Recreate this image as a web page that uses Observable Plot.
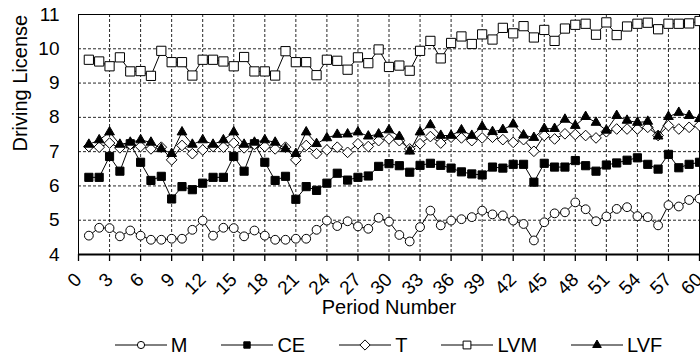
<!DOCTYPE html>
<html><head><meta charset="utf-8">
<script src="https://cdn.jsdelivr.net/npm/d3@7"></script>
<script src="https://cdn.jsdelivr.net/npm/@observablehq/plot@0.6"></script>
<style>
html,body{margin:0;padding:0;background:#fff;}
body{width:700px;height:358px;overflow:hidden;font-family:"Liberation Sans",Arial,sans-serif;}
#legend{box-sizing:border-box;width:700px;display:flex;justify-content:center;align-items:center;gap:34px;height:26px;font-size:20px;color:#000;line-height:1;padding-left:77px;}
#legend .item{display:flex;align-items:center;gap:4px;}
#legend svg{display:block;overflow:visible;}
</style></head><body>
<div id="chart"></div>
<div id="legend"></div>
<script>
const periods = [1,2,3,4,5,6,7,8,9,10,11,12,13,14,15,16,17,18,19,20,21,22,23,24,25,26,27,28,29,30,31,32,33,34,35,36,37,38,39,40,41,42,43,44,45,46,47,48,49,50,51,52,53,54,55,56,57,58,59,60];
const xTicks = [0,3,6,9,12,15,18,21,24,27,30,33,36,39,42,45,48,51,54,57,60];
const yTicks = [4,5,6,7,8,9,10,11];
const seriesNames = ["M","CE","T","LVM","LVF"];

const M = [4.55,4.78,4.77,4.53,4.70,4.55,4.43,4.43,4.46,4.46,4.72,4.99,
           4.55,4.78,4.77,4.53,4.70,4.55,4.43,4.43,4.46,4.46,4.72,4.99,
           4.83,4.97,4.82,4.75,5.07,4.96,4.57,4.38,4.80,5.28,4.85,4.99,5.03,5.09,5.28,5.17,
           5.14,4.99,4.89,4.41,4.94,5.20,5.23,5.52,5.32,4.97,5.11,5.33,5.38,5.12,5.09,4.85,5.44,5.40,5.59,5.63];
const CE = [6.25,6.25,6.86,6.43,7.23,6.69,6.16,6.28,5.62,5.98,5.89,6.08,
            6.25,6.25,6.86,6.43,7.23,6.69,6.16,6.28,5.61,5.98,5.87,6.08,
            6.37,6.17,6.25,6.29,6.57,6.65,6.59,6.40,6.60,6.66,6.60,6.52,6.41,6.35,6.32,6.55,
            6.52,6.63,6.63,6.11,6.66,6.55,6.55,6.74,6.59,6.43,6.61,6.67,6.75,6.82,6.63,6.49,6.92,6.53,6.63,6.69];
const T = [7.15,7.13,7.25,7.11,7.21,7.15,7.08,7.13,6.76,7.18,6.94,7.05,
           7.15,7.13,7.25,7.11,7.21,7.15,7.08,7.13,6.76,7.18,6.94,7.05,
           7.13,6.98,7.23,7.15,7.32,7.37,7.32,7.08,7.23,7.44,7.25,7.42,7.40,7.32,7.40,7.42,
           7.35,7.27,7.35,7.01,7.47,7.37,7.52,7.50,7.47,7.40,7.58,7.66,7.66,7.66,7.71,7.47,7.76,7.66,7.71,7.76];
const LVM = [9.68,9.63,9.49,9.75,9.34,9.35,9.21,9.94,9.61,9.61,9.22,9.68,
             9.68,9.63,9.49,9.76,9.34,9.34,9.22,9.93,9.61,9.61,9.23,9.68,
             9.65,9.39,9.75,9.58,9.98,9.47,9.51,9.36,9.94,10.23,9.72,10.17,10.36,10.14,10.42,10.27,
             10.61,10.45,10.66,10.33,10.55,10.23,10.59,10.70,10.73,10.41,10.77,10.40,10.65,10.73,10.76,10.57,10.73,10.73,10.74,10.81];
const LVF = [7.21,7.34,7.57,7.21,7.27,7.34,7.27,7.08,6.94,7.57,7.21,7.34,
             7.21,7.34,7.57,7.21,7.27,7.34,7.27,7.08,6.94,7.57,7.23,7.40,
             7.50,7.51,7.57,7.45,7.51,7.63,7.44,7.01,7.57,7.78,7.47,7.47,7.63,7.47,7.73,7.58,
             7.64,7.80,7.48,7.41,7.67,7.67,7.94,7.76,8.02,7.85,7.62,8.05,7.91,7.85,7.88,7.45,8.02,8.14,8.05,7.96];

const values = {M, CE, T, LVM, LVF};
const rows = seriesNames.flatMap(s => periods.map((p, i) => ({series: s, period: p, value: values[s][i]})));

// marker styles (presentation only)
const markerStyle = {
  M:   {symbol: "circle",  fill: "white", r: 4.4, lr: 3.6},
  CE:  {symbol: "square",  fill: "black", r: 4.6, lr: 3.6},
  T:   {symbol: "diamond2",fill: "white", r: 4.8, lr: 4.6},
  LVM: {symbol: "square",  fill: "white", r: 5.2, lr: 4.4},
  LVF: {symbol: "triangle",fill: "black", r: 3.6, lr: 3.2}
};

const seriesMarks = seriesNames.flatMap(s => {
  const data = rows.filter(d => d.series === s);
  const st = markerStyle[s];
  return [
    Plot.line(data, {x: "period", y: "value", stroke: "black", strokeWidth: 1}),
    Plot.dot(data, {x: "period", y: "value", symbol: () => st.symbol, r: st.r, fill: st.fill, stroke: "black", strokeWidth: 1})
  ];
});

const FONT = "'Liberation Sans', Arial, sans-serif";

const chart = Plot.plot({
  width: 700,
  height: 332,
  marginLeft: 78,
  marginRight: 1,
  marginTop: 14,
  marginBottom: 78,
  style: {fontFamily: FONT, fontSize: "19px", background: "white", color: "black", overflow: "visible"},
  x: {domain: [0, 60]},
  y: {domain: [4, 11]},
  symbol: {type: "identity"},
  marks: [
    Plot.gridY(yTicks.filter(v => v > 4 && v < 11), {stroke: "#000", strokeOpacity: 0.85, strokeDasharray: "3,2", strokeWidth: 1}),
    Plot.gridX(xTicks.filter(v => v > 0 && v < 60), {stroke: "#000", strokeOpacity: 0.85, strokeDasharray: "3,2", strokeWidth: 1}),
    Plot.frame({stroke: "black", strokeWidth: 1}),
    Plot.ruleY([4], {stroke: "black", strokeWidth: 2}),
    Plot.axisY(yTicks, {tickSize: 0, tickPadding: 19, fontSize: 19, label: null}),
    Plot.axisX(xTicks, {tickRotate: -45, tickSize: 7, tickPadding: 15, fontSize: 19, label: null, strokeWidth: 1.3}),
    Plot.text(["Driving License"], {text: d => d, frameAnchor: "left", rotate: -90, dx: -58, dy: 17, fontSize: 20}),
    Plot.text(["Period Number"], {text: d => d, frameAnchor: "bottom", dy: 59, fontSize: 20}),
    ...seriesMarks
  ]
});
document.getElementById("chart").appendChild(chart);

// legend
const legend = d3.select("#legend");
for (const s of seriesNames) {
  const st = markerStyle[s];
  const item = legend.append("div").attr("class", "item");
  const svg = item.append("svg").attr("width", 52).attr("height", 16);
  svg.append("line").attr("x1", 0).attr("x2", 52).attr("y1", 8).attr("y2", 8).attr("stroke", "black").attr("stroke-width", 1);
  const symType = {circle: d3.symbolCircle, square: d3.symbolSquare, diamond2: d3.symbolDiamond2, triangle: d3.symbolTriangle}[st.symbol];
  svg.append("path").attr("transform", "translate(26,8)")
    .attr("d", d3.symbol(symType, Math.PI * st.lr * st.lr)())
    .attr("fill", st.fill).attr("stroke", "black").attr("stroke-width", 1);
  item.append("span").text(s);
}
</script>
</body></html>
